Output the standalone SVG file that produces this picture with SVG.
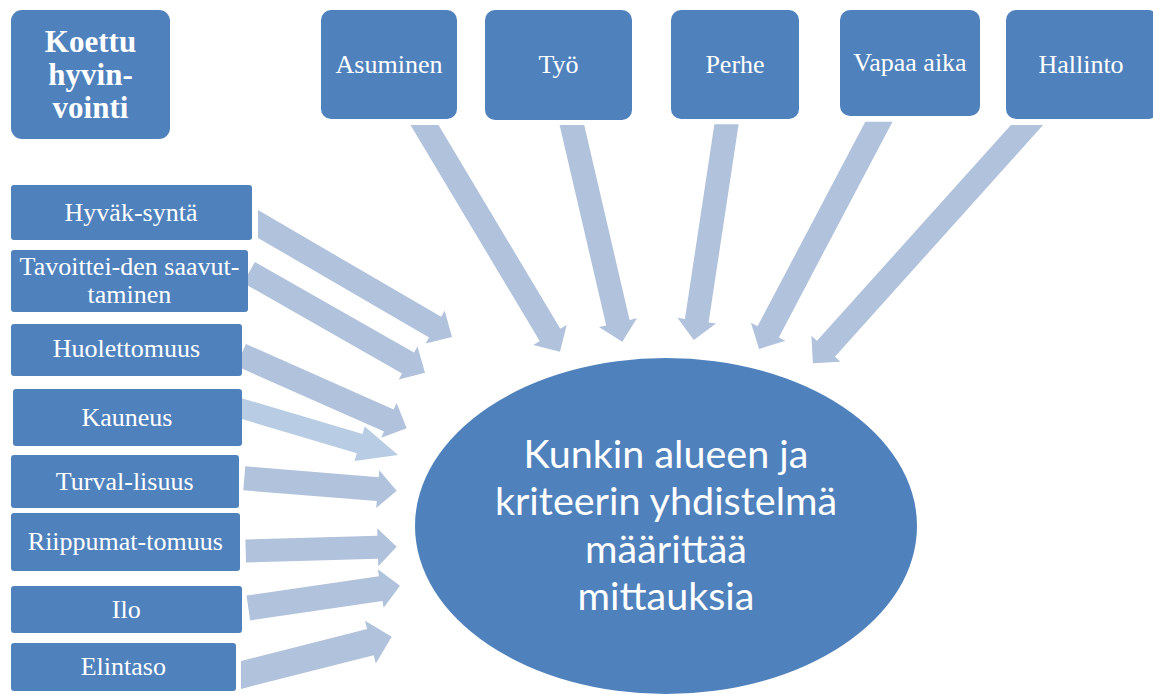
<svg xmlns="http://www.w3.org/2000/svg" width="1153" height="695" viewBox="0 0 1153 695">
<style>
.box{fill:#4F81BD;}
.t{font-family:"Liberation Serif","Times New Roman",serif;font-size:26px;fill:#ffffff;text-anchor:middle;}
.tb{font-family:"Liberation Serif","Times New Roman",serif;font-size:31px;font-weight:bold;fill:#ffffff;text-anchor:middle;}
.arr{fill:#B0C2DC;}
.arr2{fill:#B8CCE4;}
.et{font-family:Lato,"Open Sans",sans-serif;font-size:39.5px;fill:#ffffff;text-anchor:middle;}
</style>
<rect width="1153" height="695" fill="#ffffff"/>
<g id="connectors">
<polygon class="arr" points="410.5,125 539.7,341.1 533.3,345.0 560,351.7 566.7,325.0 560.3,328.8 438.5,125"/>
<polygon class="arr" points="559.6,125 606.2,325.4 598.9,327.1 622.3,341.7 636.9,318.3 629.6,320.0 584.2,125"/>
<polygon class="arr" points="714.4,124.3 684.9,318.9 677.4,317.8 693.8,340 716.0,323.6 708.6,322.5 738.6,124.3"/>
<polygon class="arr" points="865.3,121.7 757.6,326.2 750.9,322.7 759.1,349 785.4,340.8 778.8,337.4 892.5,121.7"/>
<polygon class="arr" points="1010.9,125 817.0,340.8 811.4,335.8 812.9,363.3 840.4,361.8 834.9,356.8 1043.1,125"/>
<polygon class="arr" points="258,237.9 429.1,337.6 425.6,343.6 452,337 444.7,310.8 441.2,316.8 258,210.1"/>
<polygon class="arr" points="243.1,282.9 402.1,373.5 398.7,379.6 425,372.7 417.5,346.5 414.0,352.6 254.9,262.1"/>
<polygon class="arr" points="236.2,366.0 384.0,431.4 381.2,437.8 406.7,428.3 396.6,403.0 393.7,409.4 245.9,344.0"/>
<polygon class="arr2" points="235.2,417.1 356.8,453.2 354.5,460.9 398,455 364.8,426.4 362.5,434.0 240.9,397.9"/>
<polygon class="arr" points="243.3,490.3 376.8,501.1 376.2,508.1 396.7,490.7 379.3,470.2 378.7,477.2 245.3,466.3"/>
<polygon class="arr" points="246.0,562.5 378.0,558.7 378.3,566.2 396.7,546.7 377.2,528.3 377.4,535.7 245.4,539.5"/>
<polygon class="arr" points="250.1,620.4 382.5,600.9 383.6,607.8 400,585.7 377.9,569.3 378.9,576.2 246.5,595.6"/>
<polygon class="arr" points="241,688.9 373.7,655.2 375.8,663.4 391.7,636.7 365.0,620.8 367.1,629.0 241,661.1"/>
</g>
<g id="koettu">
<rect class="box" x="11" y="10" width="159" height="129" rx="11"/>
<text class="tb" x="90.5" y="52">Koettu</text>
<text class="tb" x="90.5" y="85">hyvin-</text>
<text class="tb" x="90.5" y="118">vointi</text>
</g>
<g id="asuminen">
<rect class="box" x="321" y="10" width="136" height="109" rx="10"/>
<text class="t" x="389" y="73">Asuminen</text>
</g>
<g id="tyo">
<rect class="box" x="485" y="10" width="147" height="110" rx="10"/>
<text class="t" x="558.5" y="73">Työ</text>
</g>
<g id="perhe">
<rect class="box" x="671" y="10" width="128" height="109" rx="10"/>
<text class="t" x="735" y="73">Perhe</text>
</g>
<g id="vapaa">
<rect class="box" x="840" y="10" width="140" height="106" rx="10"/>
<text class="t" x="910" y="70.5">Vapaa aika</text>
</g>
<g id="hallinto">
<rect class="box" x="1006" y="10" width="152" height="109" rx="10"/>
<text class="t" x="1081" y="73">Hallinto</text>
</g>
<g id="hyvaksynta">
<rect class="box" x="11" y="185" width="241" height="55" rx="3"/>
<text class="t" x="131" y="221">Hyväk-syntä</text>
</g>
<g id="tavoitteiden">
<rect class="box" x="11" y="250" width="237" height="62" rx="3"/>
<text class="t" x="129.5" y="275">Tavoittei-den saavut-</text>
<text class="t" x="129.5" y="303">taminen</text>
</g>
<g id="huolettomuus">
<rect class="box" x="11" y="324" width="231" height="52" rx="3"/>
<text class="t" x="126.5" y="357">Huolettomuus</text>
</g>
<g id="kauneus">
<rect class="box" x="13" y="389" width="229" height="57" rx="3"/>
<text class="t" x="127" y="426">Kauneus</text>
</g>
<g id="turvallisuus">
<rect class="box" x="11" y="455" width="228" height="53" rx="3"/>
<text class="t" x="124.7" y="490">Turval-lisuus</text>
</g>
<g id="riippumattomuus">
<rect class="box" x="11" y="513" width="229" height="58" rx="3"/>
<text class="t" x="125.3" y="550">Riippumat-tomuus</text>
</g>
<g id="ilo">
<rect class="box" x="11" y="586" width="231" height="47" rx="3"/>
<text class="t" x="126.3" y="618">Ilo</text>
</g>
<g id="elintaso">
<rect class="box" x="11" y="643" width="225" height="48" rx="3"/>
<text class="t" x="123.3" y="675">Elintaso</text>
</g>
<g id="center">
<ellipse class="box" cx="666" cy="526" rx="251" ry="168"/>
<text class="et" x="666" y="468">Kunkin alueen ja</text>
<text class="et" x="666" y="515">kriteerin yhdistelmä</text>
<text class="et" x="666" y="563">määrittää</text>
<text class="et" x="666" y="610">mittauksia</text>
</g>
</svg>
